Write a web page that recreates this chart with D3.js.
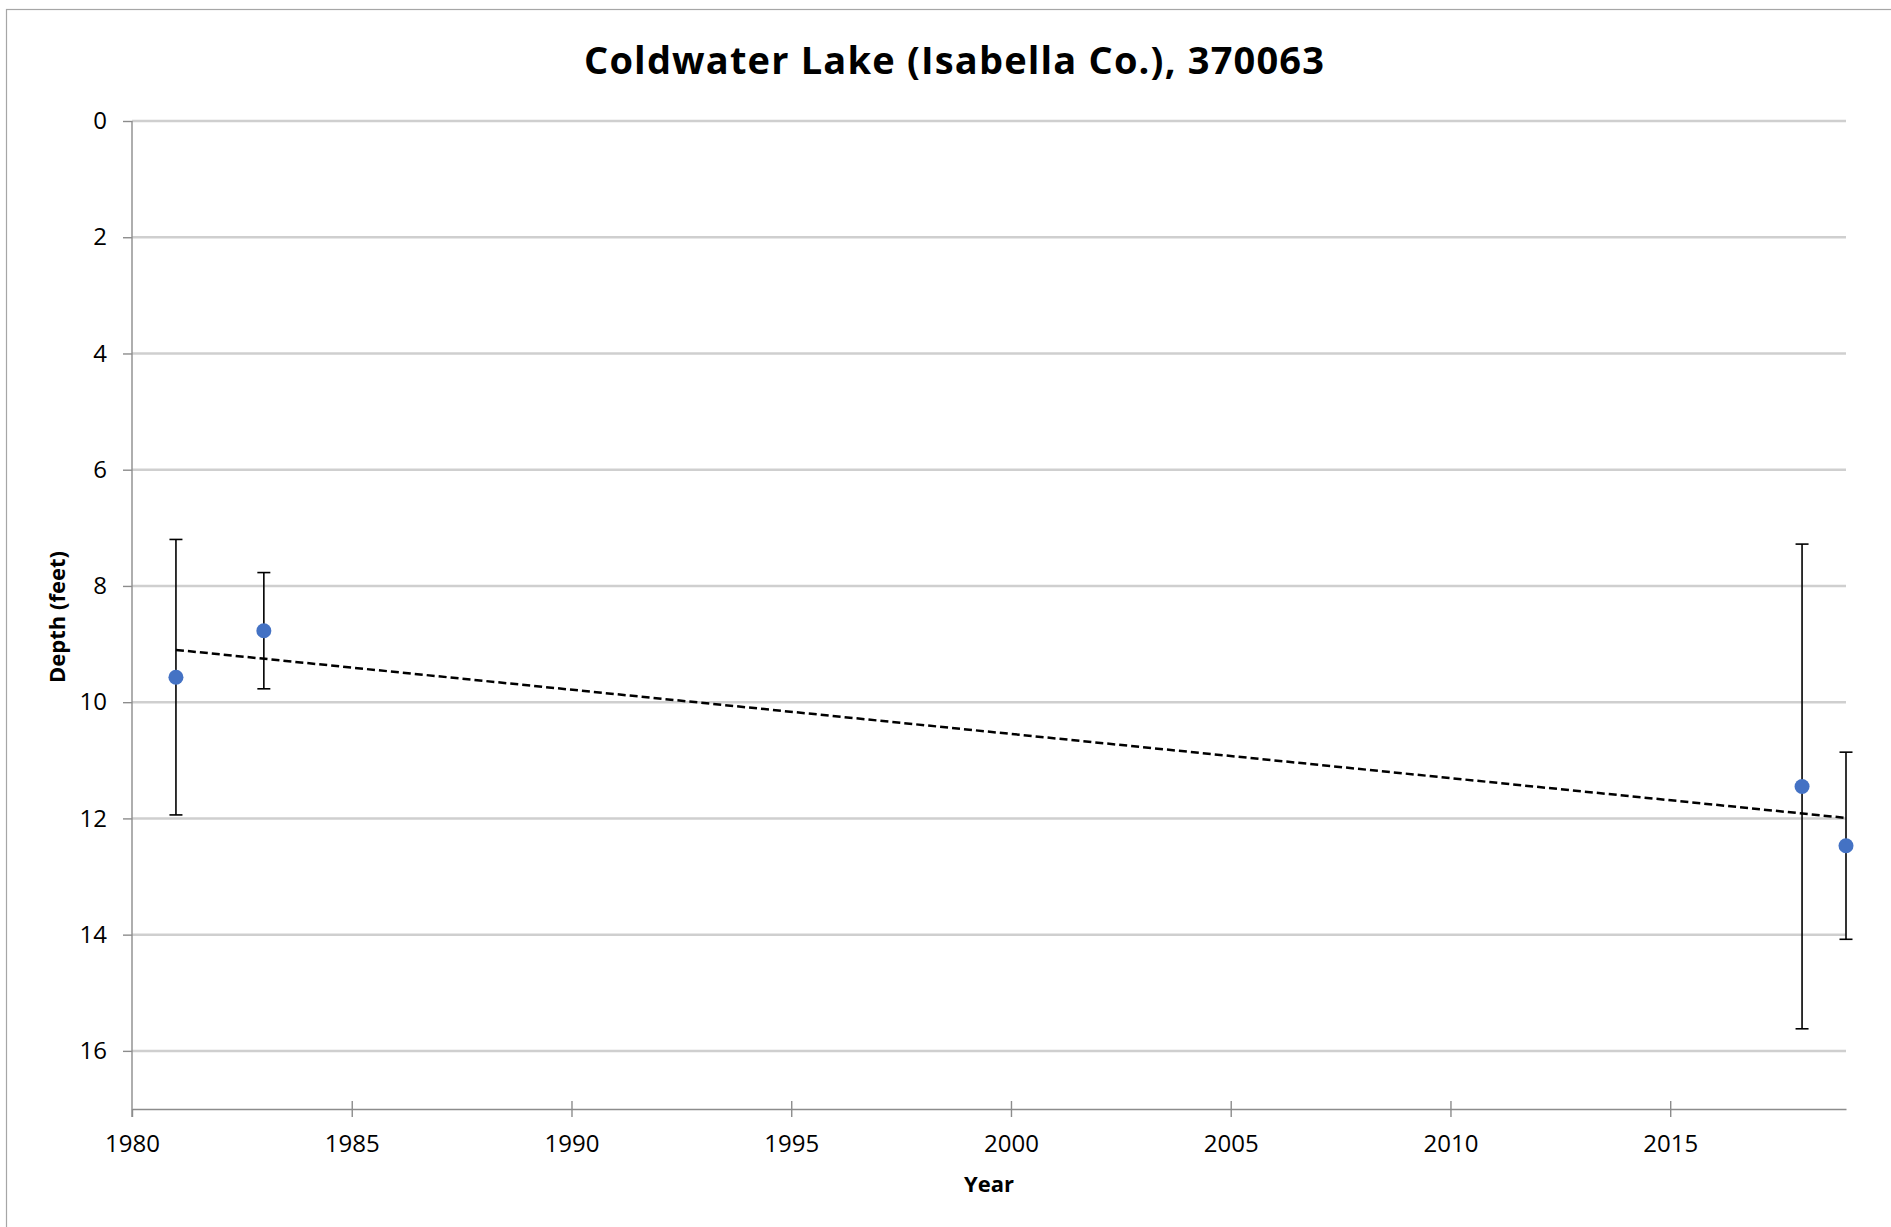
<!DOCTYPE html>
<html>
<head>
<meta charset="utf-8">
<script src="https://cdn.jsdelivr.net/npm/d3@7"></script>
<style>
  body { margin: 0; background: #fff; }
  svg { display: block; }
  text { font-family: "Open Sans", "Noto Sans", sans-serif; fill: #000; }
</style>
</head>
<body>
<svg id="drawing_region"></svg>
<script>
// sample years, mean depth (feet) and error (+/- feet)
const years = [1981, 1983, 2018, 2019];
const depths = [9.57, 8.77, 11.45, 12.47];
const errors = [2.37, 1.0, 4.17, 1.61];

const yTicks = [0, 2, 4, 6, 8, 10, 12, 14, 16];
const xTicks = [1980, 1985, 1990, 1995, 2000, 2005, 2010, 2015];

const chartTitle = "Coldwater Lake (Isabella Co.), 370063";
const xTitle = "Year";
const yTitle = "Depth (feet)";

const data = years.map((y, i) => ({year: y, depth: depths[i], err: errors[i]}));

const config = {
    width: 1891,
    height: 1227,
    margin: {top: 121, right: 45, bottom: 118, left: 132}
};

const svg = d3.select('#drawing_region')
    .attr('width', config.width)
    .attr('height', config.height);

// chart area border
svg.append('rect')
    .attr('x', 6.5).attr('y', 9.5)
    .attr('width', 1900).attr('height', 1240)
    .attr('fill', 'none')
    .attr('stroke', '#a6a6a6')
    .attr('stroke-width', 1.2);

const inner_width = config.width - config.margin.left - config.margin.right;
const inner_height = config.height - config.margin.top - config.margin.bottom;

const chart = svg.append('g')
    .attr('transform', `translate(${config.margin.left}, ${config.margin.top})`);

const xscale = d3.scaleLinear()
    .domain([1980, 2019])
    .range([0, inner_width]);

const yscale = d3.scaleLinear()
    .domain([0, 17])
    .range([0, inner_height]);

// gridlines
chart.append('g')
    .selectAll('line')
    .data(yTicks)
    .join('line')
    .attr('x1', 0)
    .attr('x2', inner_width)
    .attr('y1', d => yscale(d))
    .attr('y2', d => yscale(d))
    .attr('stroke', '#cfcfcf')
    .attr('stroke-width', 2.5);

// y axis
const yaxis = d3.axisLeft(yscale)
    .tickValues(yTicks)
    .tickSize(9)
    .tickPadding(16)
    .tickSizeOuter(0);

const yaxis_group = chart.append('g').call(yaxis);
yaxis_group.select('.domain')
    .attr('d', `M0,0V${inner_height + 8}`);
yaxis_group.selectAll('line, path')
    .attr('stroke', '#8c8c8c')
    .attr('stroke-width', 1.4);
yaxis_group.selectAll('text')
    .attr('font-size', 24)
    .attr('font-family', '"Open Sans", sans-serif')
    .attr('fill', '#000');

// x axis
const xaxis = d3.axisBottom(xscale)
    .tickValues(xTicks)
    .tickFormat(d3.format('d'))
    .tickSize(8)
    .tickPadding(18)
    .tickSizeOuter(0);

const xaxis_group = chart.append('g')
    .attr('transform', `translate(0, ${inner_height})`)
    .call(xaxis);
xaxis_group.selectAll('.tick line')
    .attr('y1', d => d === 1980 ? 0 : -8);
xaxis_group.selectAll('line, path')
    .attr('stroke', '#8c8c8c')
    .attr('stroke-width', 1.4);
xaxis_group.selectAll('text')
    .attr('font-size', 24)
    .attr('font-family', '"Open Sans", sans-serif')
    .attr('fill', '#000');

// linear trendline (least squares fit)
const mx = d3.mean(years);
const my = d3.mean(depths);
const slope = d3.sum(years, (x, i) => (x - mx) * (depths[i] - my)) /
              d3.sum(years, x => (x - mx) * (x - mx));
const intercept = my - slope * mx;
const x0 = d3.min(years), x1 = d3.max(years);

chart.append('line')
    .attr('x1', xscale(x0))
    .attr('y1', yscale(intercept + slope * x0))
    .attr('x2', xscale(x1))
    .attr('y2', yscale(intercept + slope * x1))
    .attr('stroke', '#000')
    .attr('stroke-width', 2.5)
    .attr('stroke-dasharray', '8,4');

// error bars
const bars = chart.append('g')
    .selectAll('g')
    .data(data)
    .join('g')
    .attr('stroke', '#000')
    .attr('stroke-width', 1.6);

bars.append('line')
    .attr('x1', d => xscale(d.year))
    .attr('x2', d => xscale(d.year))
    .attr('y1', d => yscale(d.depth - d.err))
    .attr('y2', d => yscale(d.depth + d.err));

bars.append('line')
    .attr('x1', d => xscale(d.year) - 6.5)
    .attr('x2', d => xscale(d.year) + 6.5)
    .attr('y1', d => yscale(d.depth - d.err))
    .attr('y2', d => yscale(d.depth - d.err));

bars.append('line')
    .attr('x1', d => xscale(d.year) - 6.5)
    .attr('x2', d => xscale(d.year) + 6.5)
    .attr('y1', d => yscale(d.depth + d.err))
    .attr('y2', d => yscale(d.depth + d.err));

// points
chart.append('g')
    .selectAll('circle')
    .data(data)
    .join('circle')
    .attr('cx', d => xscale(d.year))
    .attr('cy', d => yscale(d.depth))
    .attr('r', 7.5)
    .attr('fill', '#4472c4');

// titles
svg.append('text')
    .attr('x', 954)
    .attr('y', 74)
    .attr('text-anchor', 'middle')
    .attr('font-size', 38)
    .attr('font-weight', 'bold')
    .attr('textLength', 740)
    .attr('lengthAdjust', 'spacing')
    .text(chartTitle);

svg.append('text')
    .attr('x', config.margin.left + inner_width / 2)
    .attr('y', 1192)
    .attr('text-anchor', 'middle')
    .attr('font-size', 22)
    .attr('font-weight', 'bold')
    .text(xTitle);

svg.append('text')
    .attr('transform', 'translate(65, 617) rotate(-90)')
    .attr('text-anchor', 'middle')
    .attr('font-size', 22)
    .attr('font-weight', 'bold')
    .text(yTitle);
</script>
</body>
</html>
